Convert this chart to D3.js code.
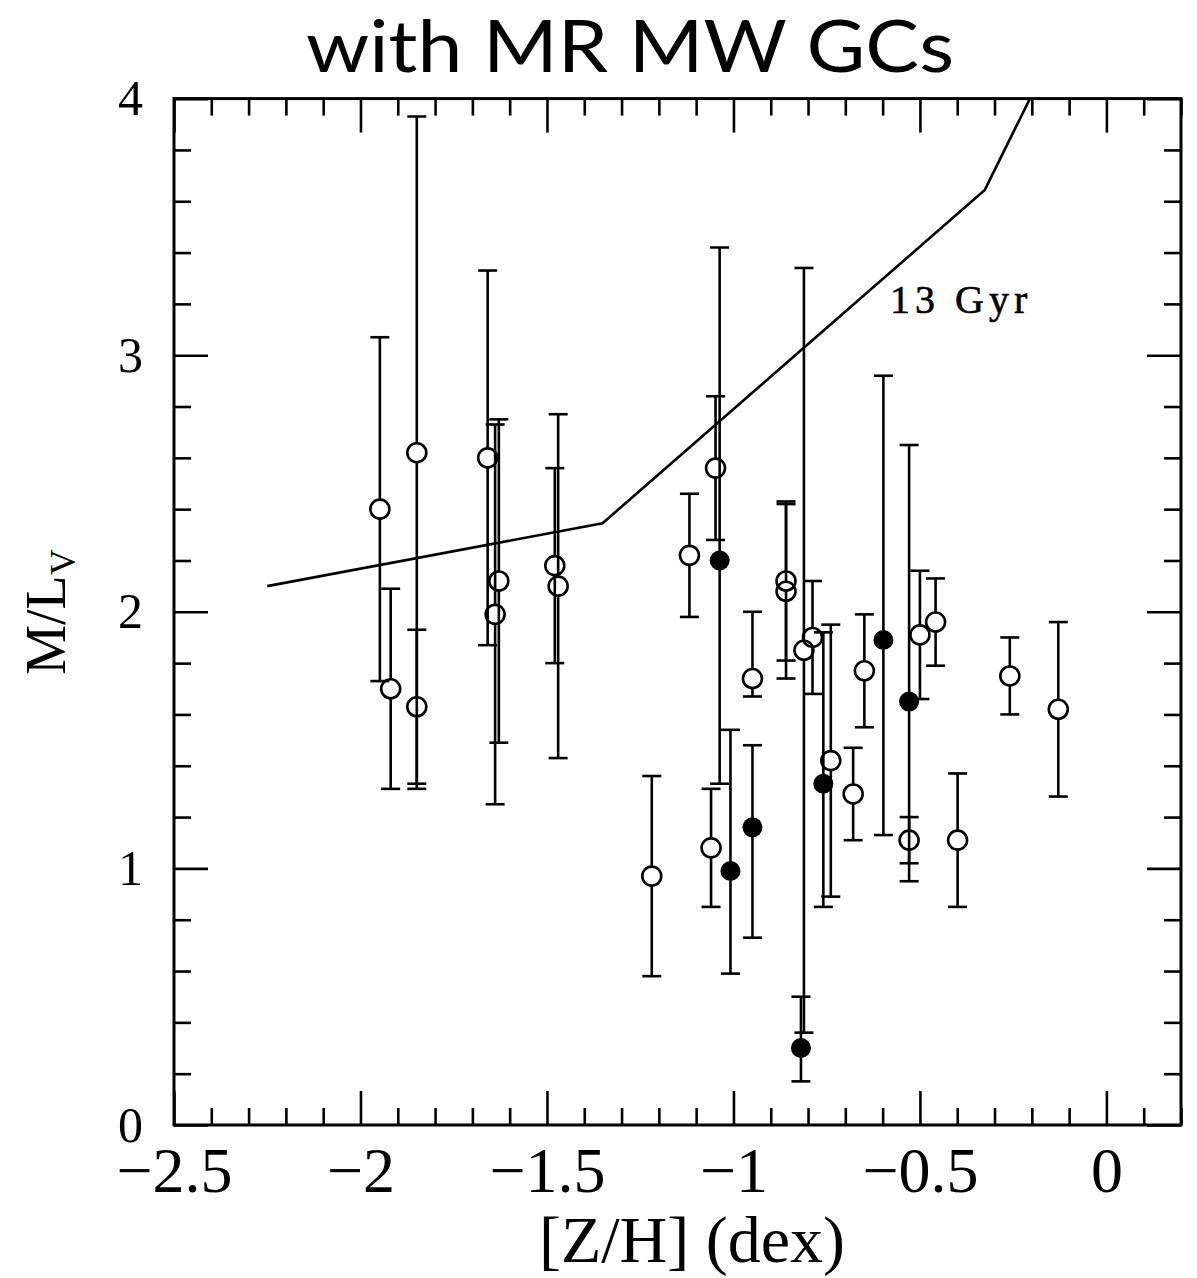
<!DOCTYPE html>
<html>
<head>
<meta charset="utf-8">
<script src="https://cdn.jsdelivr.net/npm/d3@7"></script>
<style>
  body { margin: 0; background: #fff; }
  svg { display: block; }
</style>
</head>
<body>
<svg id="chart"></svg>
<script>
// open circles: [Z/H], M/L_V, upper, lower
const openZH  = [-1.948, -1.919, -1.849, -1.849, -1.659, -1.629, -1.639, -1.479, -1.470, -1.219, -1.118, -1.060, -1.048, -0.949, -0.859, -0.859, -0.811, -0.788, -0.739, -0.679, -0.649, -0.529, -0.500, -0.458, -0.399, -0.259, -0.129];
const openML  = [2.40, 1.70, 2.62, 1.63, 2.60, 2.12, 1.99, 2.18, 2.10, 0.97, 2.22, 1.08, 2.56, 1.74, 2.12, 2.08, 1.85, 1.90, 1.42, 1.29, 1.77, 1.11, 1.91, 1.96, 1.11, 1.75, 1.62];
const openHi  = [3.07, 2.09, 3.93, 1.93, 3.33, 2.75, 2.73, 2.56, 2.77, 1.36, 2.46, 1.31, 2.84, 2.00, 2.43, 2.42, 3.34, 2.12, 1.95, 1.47, 1.99, 1.20, 2.16, 2.13, 1.37, 1.90, 1.96];
const openLo  = [1.73, 1.31, 1.33, 1.31, 1.87, 1.49, 1.25, 1.80, 1.43, 0.58, 1.98, 0.85, 2.28, 1.67, 1.81, 1.74, 0.36, 1.68, 0.89, 1.11, 1.55, 1.02, 1.66, 1.79, 0.85, 1.60, 1.28];

// filled circles
const fillZH  = [-1.037, -1.008, -0.949, -0.819, -0.759, -0.598, -0.529];
const fillML  = [2.20, 0.99, 1.16, 0.30, 1.33, 1.89, 1.65];
const fillHi  = [3.42, 1.54, 1.48, 0.50, 1.92, 2.92, 2.65];
const fillLo  = [1.33, 0.59, 0.73, 0.17, 0.85, 1.13, 0.95];

// 13 Gyr model
const modelZH = [-2.25, -1.351, -0.326, -0.205];
const modelML = [2.10, 2.345, 3.644, 4.0];

const xMajor = [-2.5, -2, -1.5, -1, -0.5, 0];
const yMajor = [0, 1, 2, 3, 4];

const W = 1197, H = 1278;
const margin = {top: 98.6, right: 16, bottom: 153, left: 174};

const svg = d3.select("#chart").attr("width", W).attr("height", H);

const x = d3.scaleLinear().domain([-2.5, 0.2]).range([margin.left, W - margin.right]);
const y = d3.scaleLinear().domain([0, 4]).range([H - margin.bottom, margin.top]);

const xMinor = d3.range(-25, 3).map(d => d / 10).filter(d => !xMajor.includes(d));
const yMinor = d3.range(0, 21).map(d => d / 5).filter(d => !yMajor.includes(d));

const fmt = d => d === 0 ? "0" : (d < 0 ? "\u2212" + Math.abs(d) : String(d));
const serif = "'Liberation Serif', 'DejaVu Serif', serif";

function styleAxis(g) {
  g.select(".domain").remove();
  g.selectAll(".tick line").attr("stroke", "#000").attr("stroke-width", 2.6);
}

// bottom
svg.append("g").attr("transform", `translate(0,${y(0)})`)
  .call(d3.axisBottom(x).tickValues(xMajor).tickSize(-34).tickPadding(22).tickFormat(fmt))
  .call(styleAxis)
  .call(g => g.selectAll("text").attr("font-family", serif).attr("font-size", 64).attr("fill", "#000"));
svg.append("g").attr("transform", `translate(0,${y(0)})`)
  .call(d3.axisBottom(x).tickValues(xMinor).tickSize(-17).tickFormat(""))
  .call(styleAxis);
// top
svg.append("g").attr("transform", `translate(0,${y(4)})`)
  .call(d3.axisTop(x).tickValues(xMajor).tickSize(-34).tickFormat(""))
  .call(styleAxis);
svg.append("g").attr("transform", `translate(0,${y(4)})`)
  .call(d3.axisTop(x).tickValues(xMinor).tickSize(-17).tickFormat(""))
  .call(styleAxis);
// left
svg.append("g").attr("transform", `translate(${x(-2.5)},0)`)
  .call(d3.axisLeft(y).tickValues(yMajor).tickSize(-34).tickPadding(31).tickFormat(fmt))
  .call(styleAxis)
  .call(g => g.selectAll("text").attr("font-family", serif).attr("font-size", 50).attr("fill", "#000"));
svg.append("g").attr("transform", `translate(${x(-2.5)},0)`)
  .call(d3.axisLeft(y).tickValues(yMinor).tickSize(-17).tickFormat(""))
  .call(styleAxis);
// right
svg.append("g").attr("transform", `translate(${x(0.2)},0)`)
  .call(d3.axisRight(y).tickValues(yMajor).tickSize(-34).tickFormat(""))
  .call(styleAxis);
svg.append("g").attr("transform", `translate(${x(0.2)},0)`)
  .call(d3.axisRight(y).tickValues(yMinor).tickSize(-17).tickFormat(""))
  .call(styleAxis);

// frame
svg.append("rect")
  .attr("x", x(-2.5)).attr("y", y(4))
  .attr("width", x(0.2) - x(-2.5)).attr("height", y(0) - y(4))
  .attr("fill", "none").attr("stroke", "#000").attr("stroke-width", 3);

// clip for plot content
svg.append("clipPath").attr("id", "plotclip").append("rect")
  .attr("x", x(-2.5)).attr("y", y(4))
  .attr("width", x(0.2) - x(-2.5)).attr("height", y(0) - y(4));

const plot = svg.append("g").attr("clip-path", "url(#plotclip)");

// model line
plot.append("path")
  .datum(modelZH.map((d, i) => [d, modelML[i]]))
  .attr("fill", "none").attr("stroke", "#000").attr("stroke-width", 2.6)
  .attr("d", d3.line().x(d => x(d[0])).y(d => y(d[1])));

const r = 9.5, cap = 9.5;
const openPts = openZH.map((d, i) => ({zh: d, ml: openML[i], hi: openHi[i], lo: openLo[i], filled: false}));
const fillPts = fillZH.map((d, i) => ({zh: d, ml: fillML[i], hi: fillHi[i], lo: fillLo[i], filled: true}));
const pts = openPts.concat(fillPts);

const bars = plot.append("g").attr("stroke", "#000").attr("stroke-width", 2.6).attr("fill", "none");
pts.forEach(p => {
  const cx = x(p.zh), cy = y(p.ml), yh = y(p.hi), yl = y(p.lo);
  // bar segments stop at the marker edge
  if (yh < cy - r) bars.append("line").attr("x1", cx).attr("x2", cx).attr("y1", yh).attr("y2", cy - r);
  if (yl > cy + r) bars.append("line").attr("x1", cx).attr("x2", cx).attr("y1", cy + r).attr("y2", yl);
  bars.append("line").attr("x1", cx - cap).attr("x2", cx + cap).attr("y1", yh).attr("y2", yh);
  bars.append("line").attr("x1", cx - cap).attr("x2", cx + cap).attr("y1", yl).attr("y2", yl);
});

plot.append("g").selectAll("circle.open")
  .data(openPts).join("circle")
  .attr("cx", d => x(d.zh)).attr("cy", d => y(d.ml)).attr("r", r)
  .attr("fill", "none").attr("stroke", "#000").attr("stroke-width", 2.6);

plot.append("g").selectAll("circle.filled")
  .data(fillPts).join("circle")
  .attr("cx", d => x(d.zh)).attr("cy", d => y(d.ml)).attr("r", r + 0.5)
  .attr("fill", "#000");

// model label
svg.append("text")
  .attr("x", 890).attr("y", 313)
  .attr("font-family", serif)
  .attr("font-size", 40).attr("letter-spacing", 5)
  .attr("fill", "#000").attr("stroke", "#000").attr("stroke-width", 0.6)
  .text("13 Gyr");

// title
svg.append("text")
  .attr("x", 630).attr("y", 72).attr("text-anchor", "middle")
  .attr("font-family", "Lato, 'Open Sans', sans-serif")
  .attr("font-size", 72).attr("fill", "#000")
  .attr("textLength", 648).attr("lengthAdjust", "spacingAndGlyphs")
  .text("with MR MW GCs");

// x label
svg.append("text")
  .attr("x", 692).attr("y", 1262).attr("text-anchor", "middle")
  .attr("font-family", serif).attr("font-size", 66).attr("fill", "#000")
  .text("[Z/H] (dex)");

// y label
const yl = svg.append("text")
  .attr("transform", "translate(65,612) rotate(-90)")
  .attr("text-anchor", "middle")
  .attr("font-family", serif).attr("font-size", 56).attr("fill", "#000");
yl.append("tspan").text("M/L");
yl.append("tspan").attr("font-size", 36).attr("dy", 10).text("V");
</script>
</body>
</html>
